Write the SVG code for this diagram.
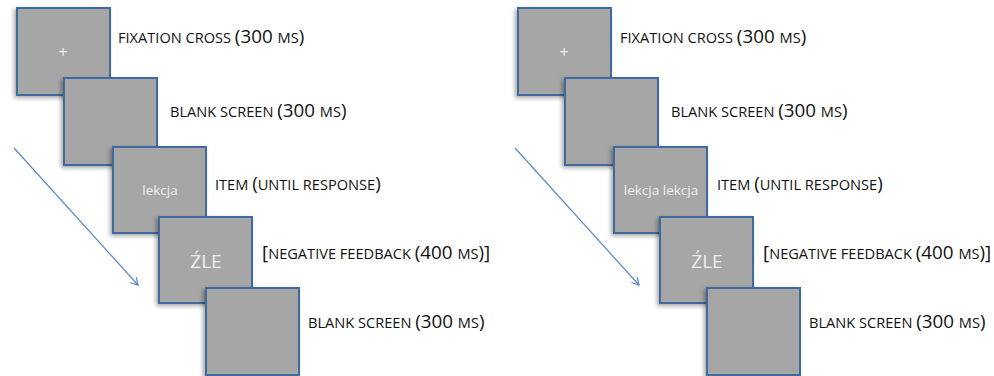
<svg xmlns="http://www.w3.org/2000/svg" width="994" height="376" viewBox="0 0 994 376">
<defs>
<filter id="sh" x="-10%" y="-10%" width="130%" height="130%">
<feGaussianBlur in="SourceAlpha" stdDeviation="2"/>
<feOffset dx="-2" dy="2"/>
<feComponentTransfer><feFuncA type="linear" slope="0.35"/></feComponentTransfer>
<feMerge><feMergeNode/><feMergeNode in="SourceGraphic"/></feMerge>
</filter>
<marker id="ah" markerWidth="10" markerHeight="10" refX="8" refY="5" orient="auto" markerUnits="userSpaceOnUse">
<path d="M1,1 L8,5 L1,9" fill="none" stroke="#5a88c8" stroke-width="1.2"/>
</marker>
<style>
.box{fill:#a6a6a6;stroke:#41699f;stroke-width:2;filter:url(#sh)}
.lbl{font-family:"Open Sans","Liberation Sans",sans-serif;font-size:14.6px;fill:#111111}
.big{font-size:18.8px}
.in{font-family:"Open Sans","Liberation Sans",sans-serif;fill:#eeeeee;text-anchor:middle}
.conn{stroke:#5a88c8;stroke-width:1.2;fill:none}
</style>
</defs>
<rect width="994" height="376" fill="#ffffff"/>

<g id="panel-left">
<g id="L1"><rect class="box" x="17" y="8" width="93" height="87"/><text class="in" x="63" y="58" font-size="16">+</text><text class="lbl" x="118" y="43">FIXATION CROSS <tspan class="big">(300 </tspan>MS<tspan class="big">)</tspan></text></g>
<g id="L2"><rect class="box" x="64" y="78" width="93" height="87"/><text class="lbl" x="170" y="117">BLANK SCREEN <tspan class="big">(300 </tspan>MS<tspan class="big">)</tspan></text></g>
<g id="L3"><rect class="box" x="113" y="147" width="93" height="86"/><text class="in" x="160" y="195" font-size="13.5">lekcja</text><text class="lbl" x="215" y="190">ITEM <tspan class="big">(</tspan>UNTIL RESPONSE<tspan class="big">)</tspan></text></g>
<g id="L4"><rect class="box" x="159" y="217" width="93" height="86"/><text class="in" x="206" y="268" font-size="19">ŹLE</text><text class="lbl" x="262" y="259"><tspan class="big">[</tspan>NEGATIVE FEEDBACK <tspan class="big">(400 </tspan>MS<tspan class="big">)]</tspan></text></g>
<g id="L5"><rect class="box" x="206" y="288" width="93" height="87"/><text class="lbl" x="308" y="328">BLANK SCREEN <tspan class="big">(300 </tspan>MS<tspan class="big">)</tspan></text></g>
</g>

<g id="panel-right">
<g id="R1"><rect class="box" x="518" y="8" width="93" height="87"/><text class="in" x="564" y="58" font-size="16">+</text><text class="lbl" x="620" y="43">FIXATION CROSS <tspan class="big">(300 </tspan>MS<tspan class="big">)</tspan></text></g>
<g id="R2"><rect class="box" x="565" y="78" width="93" height="87"/><text class="lbl" x="671" y="117">BLANK SCREEN <tspan class="big">(300 </tspan>MS<tspan class="big">)</tspan></text></g>
<g id="R3"><rect class="box" x="614" y="147" width="93" height="86"/><text class="in" x="661" y="195" font-size="13.5">lekcja lekcja</text><text class="lbl" x="717" y="190">ITEM <tspan class="big">(</tspan>UNTIL RESPONSE<tspan class="big">)</tspan></text></g>
<g id="R4"><rect class="box" x="660" y="217" width="93" height="86"/><text class="in" x="707" y="268" font-size="19">ŹLE</text><text class="lbl" x="763" y="259"><tspan class="big">[</tspan>NEGATIVE FEEDBACK <tspan class="big">(400 </tspan>MS<tspan class="big">)]</tspan></text></g>
<g id="R5"><rect class="box" x="707" y="288" width="93" height="87"/><text class="lbl" x="809" y="328">BLANK SCREEN <tspan class="big">(300 </tspan>MS<tspan class="big">)</tspan></text></g>
</g>

<g id="connectors">
<line class="conn" x1="14" y1="148" x2="138" y2="285" marker-end="url(#ah)"/>
<line class="conn" x1="515" y1="148" x2="639" y2="285" marker-end="url(#ah)"/>
</g>
</svg>
